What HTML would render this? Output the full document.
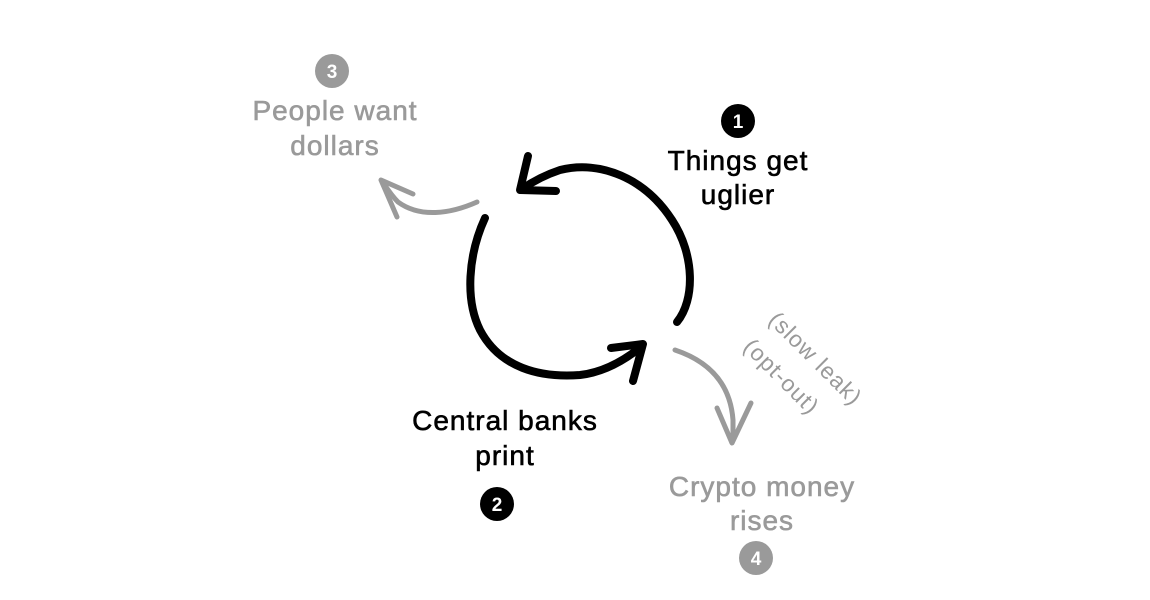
<!DOCTYPE html>
<html><head><style>
html,body{margin:0;padding:0;background:#fff;}
svg{display:block;}
text{font-family:"Liberation Sans",sans-serif;}
</style></head><body>
<svg width="1150" height="600" viewBox="0 0 1150 600">
<rect width="1150" height="600" fill="#fff"/>
<g fill="none" stroke="#000" stroke-width="8" stroke-linecap="round" stroke-linejoin="round">
<path d="M677,322 C695,300 695,255 672,220 C645,178 600,160 560,170 C545,175 532,182 522,189"/>
<path d="M528,156 L520,190 L556,191"/>
<path d="M485,218 C468,255 465,300 480,330 C500,368 540,378 580,375 C605,372 625,360 642,346"/>
<path d="M611,348 L643,344 L633,381"/>
</g>
<g fill="none" stroke="#9a9a9a" stroke-width="5" stroke-linecap="round" stroke-linejoin="round">
<path d="M477,202 C450,214 420,218 398,202 C392,196 388,190 384,184"/>
<path d="M413,194 L381,180 L397,217"/>
<path d="M675,350 C705,360 730,380 733,420 L733,438"/>
<path d="M717,408 L732,443 L751,403"/>
</g>
<circle cx="332" cy="71" r="17" fill="#9a9a9a"/>
<text x="332" y="78" font-size="19" font-weight="bold" fill="#fff" text-anchor="middle">3</text>
<circle cx="738" cy="121" r="17" fill="#000"/>
<text x="738" y="128" font-size="19" font-weight="bold" fill="#fff" text-anchor="middle">1</text>
<circle cx="497" cy="504" r="17" fill="#000"/>
<text x="497" y="511" font-size="19" font-weight="bold" fill="#fff" text-anchor="middle">2</text>
<circle cx="756" cy="558" r="17" fill="#9a9a9a"/>
<text x="756" y="565" font-size="19" font-weight="bold" fill="#fff" text-anchor="middle">4</text>
<g font-size="28" text-anchor="middle" letter-spacing="1" stroke-width="0.6">
<text x="335" y="120" fill="#9a9a9a" stroke="#9a9a9a">People want</text>
<text x="335" y="155" fill="#9a9a9a" stroke="#9a9a9a">dollars</text>
<text x="738" y="170" fill="#000" stroke="#000">Things get</text>
<text x="738" y="204" fill="#000" stroke="#000">uglier</text>
<text x="505" y="430" fill="#000" stroke="#000">Central banks</text>
<text x="505" y="465" fill="#000" stroke="#000">print</text>
<text x="762" y="496" fill="#9a9a9a" stroke="#9a9a9a">Crypto money</text>
<text x="762" y="530" fill="#9a9a9a" stroke="#9a9a9a">rises</text>
</g>
<g font-size="23" fill="#9a9a9a" text-anchor="middle" letter-spacing="1">
<text transform="translate(810,364) rotate(45)">(slow leak)</text>
<text transform="translate(776,382) rotate(45)">(opt-out)</text>
</g>
</svg>
</body></html>
